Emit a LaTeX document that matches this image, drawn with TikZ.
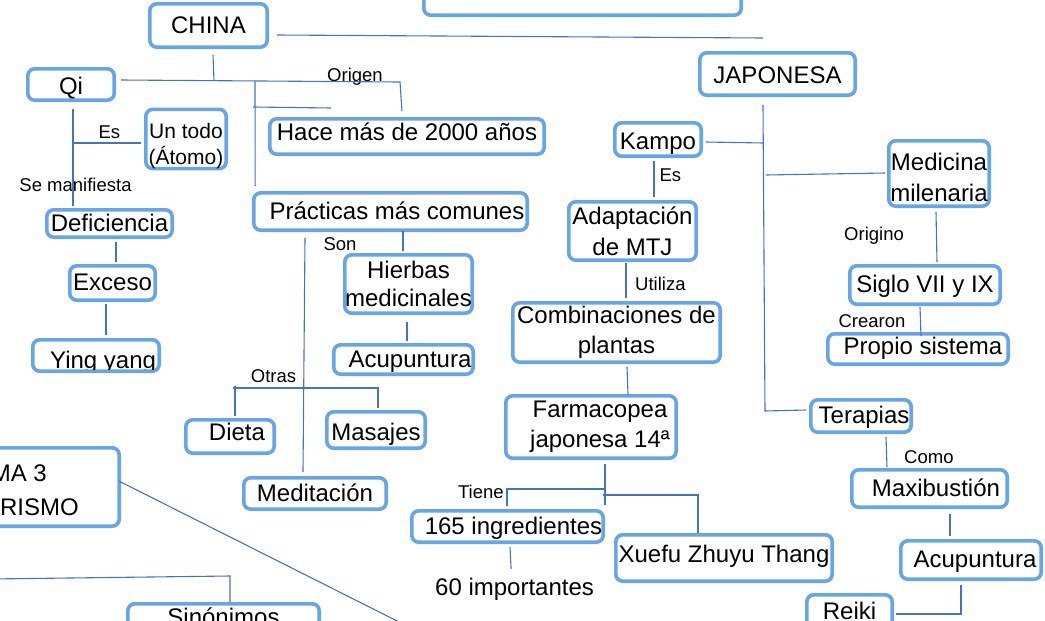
\documentclass[tikz,border=0pt]{standalone}
\usepackage{fontspec}
\setmainfont{Liberation Sans}
\usetikzlibrary{calc}
\definecolor{boxc}{RGB}{102,166,232}
\definecolor{linec}{RGB}{68,114,196}
\newcommand\bnode[7]{\node[bx,#6,minimum width={#3-#2-3.6},minimum height={#5-#4-3.6}] (#1) at ({(#2+#3)/2},{(#4+#5)/2}) {#7};}
\begin{document}
\begin{tikzpicture}[x=1pt,y=-1pt,
  conn/.style={draw=linec,line width=1.1pt},
  bx/.style={draw=boxc,line width=3.6pt,rounded corners=7pt,inner sep=0pt,font=\fontsize{24}{30}\selectfont},
  one/.style={text height=19pt,text depth=4pt},
  multi/.style={align=center},
  txt/.style={font=\fontsize{24}{30}\selectfont,inner sep=0pt},
  lab/.style={font=\fontsize{18.5}{22}\selectfont,inner sep=0pt,anchor=base west}]
\useasboundingbox (0,0) rectangle (1045,621);

% boxes
\bnode{top}{422}{743}{-40}{17}{one}{}
\bnode{china}{148}{269}{2}{49}{one}{CHINA}
\bnode{qi}{26}{116}{67}{102}{one,text height=24pt}{Qi}
\bnode{untodo}{144}{228}{113}{165}{multi,font=\fontsize{21}{26}\selectfont}{\rule{0pt}{29pt}Un todo\\(Átomo)}
\bnode{hace}{268}{546}{117}{156}{one,text depth=12pt}{Hace más de 2000 años}
\bnode{deficiencia}{45}{174}{208}{239}{one}{Deficiencia}
\bnode{exceso}{68}{157}{264}{302}{one}{Exceso}
\bnode{yingyang}{31}{161}{338}{373}{one}{}
\bnode{practicas}{252}{529}{191}{232}{one}{\hspace*{13pt}Prácticas más comunes}
\bnode{hierbas}{343}{474}{253}{315}{multi,font=\fontsize{24}{28}\selectfont}{Hierbas\\medicinales}
\bnode{acup1}{332}{475}{343}{376}{one}{\hspace*{13pt}Acupuntura}
\bnode{dieta}{184}{276}{418}{455}{one,text depth=11pt}{\hspace*{14pt}Dieta}
\bnode{masajes}{325}{427}{410}{450}{one,text height=25pt}{Masajes}
\bnode{meditacion}{242}{388}{476}{511}{one}{Meditación}
\bnode{sinonimos}{126}{321}{602}{634}{one}{Sinónimos}
\bnode{japonesa}{698}{857}{51}{97}{one,text height=23pt}{JAPONESA}
\bnode{kampo}{613}{703}{121}{158}{one,text height=24pt}{Kampo}
\bnode{adaptacion}{567}{698}{200}{262}{multi,font=\fontsize{24}{31}\selectfont}{Adaptación\\de MTJ}
\bnode{combinaciones}{511}{722}{301}{364}{multi}{Combinaciones de\\plantas}
\bnode{farmacopea}{504}{678}{394}{460}{multi}{\hspace*{18pt}Farmacopea\\\hspace*{18pt}japonesa 14ª}
\bnode{medicina}{887}{991}{139}{208}{multi,font=\fontsize{24}{31}\selectfont}{\rule{0pt}{25pt}Medicina\\milenaria}
\bnode{siglo}{848}{1002}{264}{306}{one}{Siglo VII y IX}
\bnode{propio}{826}{1010}{332}{366}{one,text depth=9pt}{\hspace*{10pt}Propio sistema}
\bnode{terapias}{809}{913}{398}{434}{one}{\hspace*{6pt}Terapias}
\bnode{maxibustion}{850}{1009}{468}{509}{one}{\hspace*{13pt}Maxibustión}
\bnode{acup2}{899}{1043}{539}{581}{one}{\hspace*{8pt}Acupuntura}
\bnode{reiki}{805}{894}{593}{631}{one}{Reiki}
\bnode{ingredientes}{410}{605}{509}{544}{one}{\hspace*{12pt}165 ingredientes}
\bnode{xuefu}{614}{834}{533}{583}{one,text depth=10pt}{Xuefu Zhuyu Thang}
\node[bx,one,minimum width=177.4,minimum height=78.4] (tema) at (30.5,487) {};

% texts outside boxes
\node[txt,anchor=base east] (temaA) at (47,481.7) {MA 3};
\node[txt,anchor=base east] (temaB) at (79,515) {RISMO};
\begin{scope}
  \clip (34.6,341.6) rectangle (157.4,369.4);
  \node[txt,anchor=base west] (yingtext) at (50,368.9) {Ying yang};
\end{scope}
\node[txt,anchor=base west] (imp) at (435,595) {60 importantes};

% labels
\node[lab] (lOrigen) at (327,81.6) {Origen};
\node[lab] (lEs1) at (98.3,138.3) {Es};
\node[lab] (lSe) at (19.3,191) {Se manifiesta};
\node[lab] (lSon) at (323.3,250) {Son};
\node[lab] (lOtras) at (250.7,382.5) {Otras};
\node[lab] (lEs2) at (659.3,181.7) {Es};
\node[lab] (lUtiliza) at (635,290) {Utiliza};
\node[lab] (lOrigino) at (844,240) {Origino};
\node[lab] (lCrearon) at (838.3,327) {Crearon};
\node[lab] (lComo) at (904,463) {Como};
\node[lab] (lTiene) at (457.9,498) {Tiene};

% free ends and junctions
\coordinate (jR) at (763,38);
\coordinate (qj) at (214,80.8);
\coordinate (obend) at (400,82);
\coordinate (pj) at (255,81.5);
\coordinate (s1) at (253,107);
\coordinate (s2) at (331,108);
\coordinate (esj) at (73.5,143);
\coordinate (otrasj) at (233,388);
\coordinate (jbot) at (765,411);
\coordinate (kj) at (763.5,143);
\coordinate (mj) at (766,175);
\coordinate (fv) at (605,505);
\coordinate (tj1) at (605,489);
\coordinate (tj2) at (603,495);
\coordinate (temaEnd) at (421,633);
\coordinate (llStart) at (-10,579);
\coordinate (llBend) at (230,576);

% connectors
\draw[conn] ($(china.east)+(7.8,9.5)$) -- (jR);
\draw[conn] ($(china.south)+(4.5,5.8)$) -- (qj);
\draw[conn] ($(qi.east)+(4.8,-4.5)$) -- (obend) -- ($(hace.north)+(-5,-5.8)$);
\draw[conn] (pj) -- ($(practicas.north west)+(3.2,-4.8)$);
\draw[conn] (s1) -- (s2);
\draw[conn] ($(qi.south)+(2,6.8)$) -- ($(deficiencia.north)+(-36.5,-1.8)$);
\draw[conn] (esj) -- ($(untodo.west)+(-2.8,4)$);
\draw[conn] ($(deficiencia.south)+(6.5,2.8)$) -- ($(exceso.north)+(3.5,-1.8)$);
\draw[conn] ($(exceso.south)+(-6.5,1.8)$) -- ($(yingyang.north)+(10,-2.8)$);
\draw[conn] ($(practicas.south)+(12.5,-1.2)$) -- ($(hierbas.north)+(-5.5,-1.8)$);
\draw[conn] ($(hierbas.south)+(-1.5,6.8)$) -- ($(acup1.north)+(3.5,-1.8)$);
\draw[conn] ($(practicas.south)+(-85.5,5.8)$) -- ($(meditacion.north)+(-12,-3.8)$);
\draw[conn] ($(dieta.north)+(5,-1.8)$) -- ($(dieta.north)+(5,-31.8)$);
\draw[conn] (otrasj) -| ($(masajes.north)+(2,-1.8)$);
\draw[conn] ($(japonesa.south)+(-14.5,7.8)$) -- (jbot) -- ($(terapias.west)+(-2.8,-6)$);
\draw[conn] ($(kampo.east)+(2.8,2.5)$) -- (kj);
\draw[conn] (mj) -- ($(medicina.west)+(-1.8,-0.5)$);
\draw[conn] ($(medicina.south)+(-3,3.8)$) -- ($(siglo.north)+(12,-1.8)$);
\draw[conn] ($(siglo.south)+(-5,0.8)$) -- ($(propio.north)+(3,4.2)$);
\draw[conn] ($(kampo.south)+(-4,2.8)$) -- ($(adaptacion.north)+(21.5,-2.8)$);
\draw[conn] ($(adaptacion.south)+(-6.5,0.8)$) -- ($(combinaciones.north)+(9.5,-2.8)$);
\draw[conn] ($(combinaciones.south)+(10.5,2.8)$) -- ($(farmacopea.north)+(37,0.2)$);
\draw[conn] ($(farmacopea.south)+(14,3.8)$) -- (fv);
\draw[conn] (tj1) -| ($(ingredientes.north)+(-0.5,-2.8)$);
\draw[conn] (tj2) -| ($(xuefu.north)+(-26,0.2)$);
\draw[conn] ($(ingredientes.south)+(2.5,2.8)$) -- ($(imp.north)+(-3.5,-8.5)$);
\draw[conn] ($(terapias.south)+(25,2.8)$) -- ($(maxibustion.north)+(-42.5,-0.8)$);
\draw[conn] ($(maxibustion.south)+(20.5,4.8)$) -- ($(acup2.north)+(-21,-2.8)$);
\draw[conn] ($(acup2.south)+(-10,3.8)$) |- ($(reiki.east)+(1.8,2)$);
\draw[conn] ($(tema.east)+(-2.2,-6)$) -- (temaEnd);
\draw[conn] (llStart) -- (llBend) -- ($(sinonimos.north)+(6.5,0.2)$);
\end{tikzpicture}
\end{document}
